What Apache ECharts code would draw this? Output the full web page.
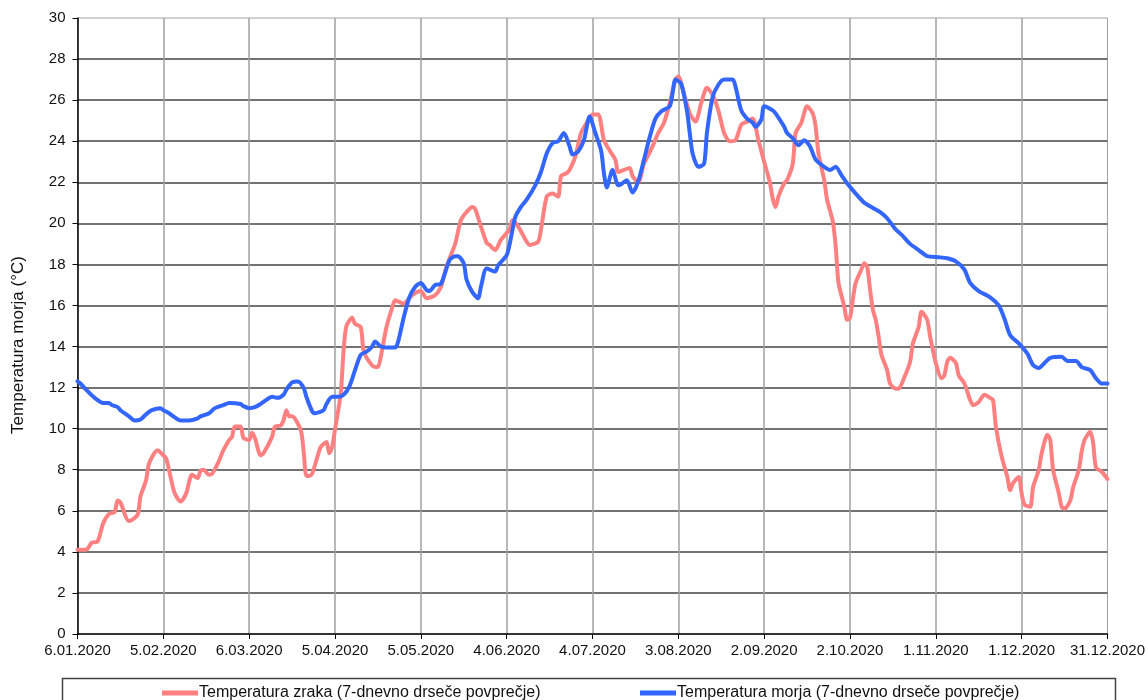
<!DOCTYPE html>
<html>
<head>
<meta charset="utf-8">
<script src="https://cdn.jsdelivr.net/npm/echarts@6/dist/echarts.min.js"></script>
<style>
  html, body { margin: 0; padding: 0; background: #fff; }
  #chart { width: 1148px; height: 700px; }
</style>
</head>
<body>
<div id="chart"></div>
<script>
// ---- Data (day offset from 6.01.2020, value °C) ----
const xTickLabels = ['6.01.2020','5.02.2020','6.03.2020','5.04.2020','5.05.2020','4.06.2020','4.07.2020','3.08.2020','2.09.2020','2.10.2020','1.11.2020','1.12.2020','31.12.2020'];
const yTicks = [0, 2, 4, 6, 8, 10, 12, 14, 16, 18, 20, 22, 24, 26, 28, 30];

const airName = 'Temperatura zraka (7-dnevno drseče povprečje)';
const seaName = 'Temperatura morja (7-dnevno drseče povprečje)';

const airDays = [0,3,5,7,9,11,13,14,15,18,21,22,24,25,28,30,31,33,34,36,38,40,42,43,44,46,47,49,51,53,54,55,57,58,60,61,62,64,65,68,69,71,72,73,74,75,78,79,80,81,82,84,85,87,88,89,90,92,93,94,96,97,99,100,102,104,105,106,108,110,111,112,114,117,120,122,125,127,129,132,134,136,138,139,141,143,144,146,148,151,152,154,157,158,161,162,164,166,168,169,171,172,174,176,178,180,182,184,186,188,189,191,193,194,196,198,201,203,205,207,209,210,212,214,216,218,220,222,224,226,228,230,232,234,236,238,240,242,243,244,245,247,248,250,251,253,255,257,258,259,261,262,264,265,266,268,269,270,271,272,274,275,276,277,278,279,280,281,283,284,286,287,289,291,292,294,295,297,298,300,302,303,304,305,307,308,310,312,313,315,317,319,320,321,323,325,326,327,329,330,331,333,334,336,337,339,340,341,343,344,345,347,348,350,351,352,354,355,356,358,360];
const airTemp = [4.1,4.1,4.45,4.5,5.4,5.85,5.95,6.5,6.4,5.5,5.8,6.7,7.5,8.3,8.95,8.7,8.55,7.35,6.85,6.45,6.85,7.75,7.6,7.95,8.0,7.75,7.8,8.3,8.95,9.45,9.6,10.1,10.1,9.55,9.45,9.8,9.55,8.7,8.8,9.6,10.1,10.15,10.4,10.9,10.6,10.6,9.95,8.95,7.7,7.7,7.8,8.7,9.1,9.35,8.8,9.1,9.95,11.7,13.8,15.0,15.4,15.1,14.95,13.8,13.25,13.0,13.0,13.5,14.95,15.9,16.25,16.2,16.1,16.5,16.7,16.35,16.5,16.9,17.9,19.0,20.15,20.55,20.8,20.7,19.85,19.05,18.95,18.7,19.2,19.7,20.15,19.85,19.1,18.95,19.1,19.7,21.3,21.45,21.3,22.3,22.45,22.6,23.25,24.4,24.9,25.3,25.3,24.05,23.55,23.1,22.5,22.6,22.7,22.3,22.0,22.9,23.75,24.4,24.9,25.85,27.0,27.15,26.3,25.35,24.95,25.85,26.6,26.25,25.5,24.4,24.0,24.05,24.8,24.95,25.1,24.05,23.0,22.0,21.2,20.8,21.3,21.95,22.1,22.9,24.4,24.9,25.7,25.35,24.7,23.4,22.1,21.15,20.1,18.9,17.1,15.95,15.3,15.4,16.3,17.1,17.75,18.05,17.9,16.8,15.8,15.3,14.5,13.6,12.85,12.2,11.95,11.95,12.5,13.25,14.15,14.95,15.7,15.3,14.5,13.2,12.45,12.6,13.25,13.45,13.2,12.6,12.2,11.4,11.15,11.3,11.65,11.5,11.4,10.1,8.65,7.65,7.0,7.35,7.65,6.85,6.3,6.2,7.15,8.0,8.8,9.7,9.45,8.0,6.85,6.2,6.1,6.5,7.15,8.0,8.9,9.45,9.85,9.3,8.1,7.9,7.55];

const seaDays = [0,1,3,6,9,11,12,14,15,18,20,22,24,26,29,30,32,34,36,39,42,43,46,48,51,53,57,58,60,62,64,66,68,70,72,73,75,77,79,80,82,83,86,87,89,91,93,95,97,99,101,103,104,106,108,111,112,114,116,118,120,122,123,125,127,130,132,133,135,136,138,140,141,143,146,147,150,151,153,155,157,160,162,164,166,168,170,172,173,175,177,179,181,183,184,185,187,189,190,192,194,196,198,200,202,204,207,208,209,211,213,214,215,217,219,220,222,224,226,229,230,232,234,236,237,239,240,243,244,247,248,250,252,254,256,258,261,263,265,267,269,272,275,278,281,283,286,288,291,294,297,301,304,307,310,312,315,319,322,324,326,329,332,334,336,338,340,344,346,349,351,354,356,358,360];
const seaTemp = [12.3,12.2,11.9,11.5,11.25,11.25,11.15,11.05,10.9,10.6,10.4,10.45,10.7,10.9,11.0,10.9,10.75,10.55,10.4,10.4,10.5,10.6,10.75,11.0,11.15,11.25,11.2,11.1,11.0,11.05,11.2,11.4,11.55,11.5,11.65,11.9,12.25,12.3,12.0,11.55,10.85,10.75,10.9,11.2,11.55,11.55,11.65,12.05,12.85,13.6,13.75,14.0,14.25,14.0,13.95,13.95,14.2,15.4,16.4,16.9,17.1,16.75,16.7,17.0,17.05,18.2,18.4,18.4,18.05,17.25,16.65,16.35,16.9,17.8,17.65,17.95,18.45,18.95,20.3,20.8,21.15,21.85,22.5,23.4,23.9,24.0,24.4,23.75,23.35,23.5,24.05,25.2,24.4,23.55,22.45,21.75,22.6,21.85,21.9,22.1,21.5,22.05,23.1,24.2,25.1,25.45,25.7,26.35,27.0,26.8,25.5,24.4,23.4,22.75,22.9,24.4,26.15,26.75,27.0,27.0,26.65,25.5,25.1,24.9,24.7,25.05,25.7,25.5,25.35,24.7,24.4,24.15,23.8,24.05,23.75,23.1,22.75,22.6,22.75,22.35,21.95,21.45,21.0,20.75,20.5,20.25,19.7,19.45,19.0,18.7,18.4,18.35,18.3,18.15,17.75,17.1,16.7,16.4,16.0,15.35,14.55,14.15,13.65,13.1,12.95,13.2,13.45,13.5,13.3,13.3,13.0,12.85,12.45,12.2,12.2];

const pair = (xs, ys) => xs.map((x, i) => [x, ys[i]]);

const FONT = '"Liberation Sans", Arial, sans-serif';
const chart = echarts.init(document.getElementById('chart'), null, { renderer: 'canvas' });

chart.setOption({
  animation: false,
  backgroundColor: '#ffffff',
  grid: {
    left: 77.5, right: 38, top: 18, bottom: 66,
    show: true, borderColor: '#a0a0a0', borderWidth: 1
  },
  xAxis: {
    type: 'value', min: 0, max: 360, interval: 30,
    axisLine: { show: true, onZero: false, lineStyle: { color: '#000', width: 1.5 } },
    axisTick: { show: true, inside: false, length: 5, lineStyle: { color: '#000', width: 1 } },
    axisLabel: {
      margin: 9, fontSize: 15, color: '#111', fontFamily: FONT,
      formatter: v => xTickLabels[Math.round(v / 30)] || ''
    },
    splitLine: { show: true, showMinLine: false, showMaxLine: false, lineStyle: { color: '#a0a0a0', width: 1.5 } }
  },
  yAxis: {
    type: 'value', min: yTicks[0], max: yTicks[yTicks.length - 1], interval: 2,
    axisLine: { show: true, lineStyle: { color: '#000', width: 1.5 } },
    axisTick: { show: true, inside: false, length: 5, lineStyle: { color: '#000', width: 1 } },
    axisLabel: { margin: 12, fontSize: 15, color: '#111', fontFamily: FONT },
    splitLine: { show: true, showMinLine: false, showMaxLine: false, lineStyle: { color: '#444', width: 1.5 } }
  },
  legend: [
    {
      data: [airName], left: 162, top: 685, padding: 0, itemGap: 0,
      icon: 'rect', itemWidth: 36, itemHeight: 5,
      textStyle: { fontSize: 16, color: '#111', fontFamily: FONT, padding: [0, 0, 0, -4] }
    },
    {
      data: [seaName], left: 640, top: 685, padding: 0, itemGap: 0,
      icon: 'rect', itemWidth: 36, itemHeight: 5,
      textStyle: { fontSize: 16, color: '#111', fontFamily: FONT, padding: [0, 0, 0, -4] }
    }
  ],
  graphic: [
    {
      type: 'rect', silent: true,
      shape: { x: 62.5, y: 678.5, width: 1053, height: 40 },
      style: { fill: 'none', stroke: '#444', lineWidth: 1.5 }
    },
    {
      type: 'text', silent: true,
      x: 18, y: 345, rotation: Math.PI / 2,
      style: {
        text: 'Temperatura morja (°C)', fontSize: 17, fontFamily: FONT, fill: '#111',
        align: 'center', verticalAlign: 'middle'
      }
    }
  ],
  series: [
    {
      name: airName, type: 'line', data: pair(airDays, airTemp),
      showSymbol: false, smooth: 0.25,
      lineStyle: { color: '#ff8080', width: 4, cap: 'round', join: 'round' },
      itemStyle: { color: '#ff8080' }
    },
    {
      name: seaName, type: 'line', data: pair(seaDays, seaTemp),
      showSymbol: false, smooth: 0.25,
      lineStyle: { color: '#3366ff', width: 4, cap: 'round', join: 'round' },
      itemStyle: { color: '#3366ff' }
    }
  ]
});
</script>
</body>
</html>
